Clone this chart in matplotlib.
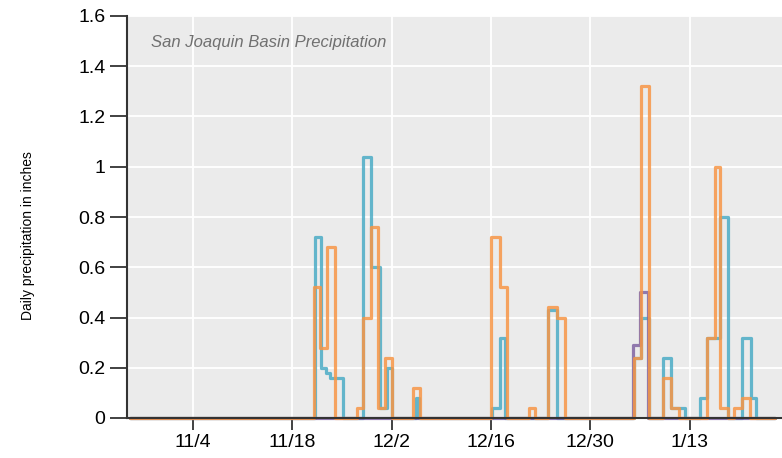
import numpy as np
import pandas as pd
import matplotlib
matplotlib.use("Agg")
import matplotlib.pyplot as plt

plt.rcParams['font.family'] = ['Liberation Sans', 'DejaVu Sans']

# day offsets from 11/4 where each step starts, and the value held until the next step
base = pd.Timestamp('2022-11-04')

blue_days = [-8.9, 17.2, 18.1, 18.8, 19.3, 21.1, 23.9, 25.1, 26.3, 27.3, 28.0,
             31.4, 31.8, 42.2, 43.2, 43.9, 50.0, 51.3, 62.1, 63.2, 64.25,
             66.2, 67.3, 69.3, 71.4, 72.4, 74.2, 75.4, 77.4, 78.6, 79.4, 82.0]
blue_vals = [0, 0.72, 0.20, 0.18, 0.16, 0, 1.04, 0.60, 0.04, 0.20, 0,
             0.08, 0, 0.04, 0.32, 0, 0.43, 0, 0.24, 0.40, 0,
             0.24, 0.04, 0, 0.08, 0.32, 0.80, 0, 0.32, 0.08, 0, 0]

orange_days = [-8.9, 17.0, 17.9, 18.9, 20.0, 23.1, 23.9, 25.1, 26.1, 27.0, 28.0,
               31.0, 32.05, 42.0, 43.2, 44.3, 47.4, 48.2, 50.0, 51.3, 52.4,
               62.1, 63.2, 64.25, 66.2, 67.3, 68.45, 72.4, 73.5, 74.2, 75.4,
               76.3, 77.3, 78.5, 82.0]
orange_vals = [0, 0.52, 0.28, 0.68, 0, 0.04, 0.40, 0.76, 0.04, 0.24, 0,
               0.12, 0, 0.72, 0.52, 0, 0.04, 0, 0.44, 0.40, 0,
               0.24, 1.32, 0, 0.16, 0.04, 0, 0.32, 1.00, 0.04, 0,
               0.04, 0.08, 0, 0]

purple_days = [-8.9, 62.0, 63.0, 64.1, 82.0]
purple_vals = [0, 0.29, 0.50, 0, 0]

tick_labels = ['11/4', '11/18', '12/2', '12/16', '12/30', '1/13']
tick_days = [0, 14, 28, 42, 56, 70]


def to_dates(days):
    return base + pd.to_timedelta(np.array(days), unit='D')


fig = plt.figure(figsize=(7.82, 4.58), dpi=100)
ax = fig.add_axes([127 / 782, 1 - 418 / 458, 1 - 127 / 782, (418 - 16) / 458])
ax.set_facecolor('#EBEBEB')

lw = 2.3
style = dict(drawstyle='steps-post', lw=lw, alpha=0.85, clip_on=False,
             solid_joinstyle='round', solid_capstyle='round')
ax.plot(to_dates(blue_days), blue_vals, color='#4BACC6', zorder=2, **style)
ax.plot(to_dates(purple_days), purple_vals, color='#8064A2', zorder=2.1, **style)
ax.plot(to_dates(orange_days), orange_vals, color='#F79646', zorder=2.2, **style)

ax.set_xlim(to_dates([-9.3])[0], to_dates([83.0])[0])
ax.set_ylim(0, 1.6)
ax.set_yticks(np.arange(0, 1.61, 0.2))
ax.set_yticklabels(['%g' % round(v, 1) for v in np.arange(0, 1.61, 0.2)])
ax.set_xticks(to_dates(tick_days))
ax.set_xticklabels(tick_labels)

ax.grid(True, color='white', lw=1.3)
ax.set_axisbelow(True)

for s in ['top', 'right']:
    ax.spines[s].set_visible(False)
for s in ['left', 'bottom']:
    ax.spines[s].set_color('#333333')
    ax.spines[s].set_linewidth(1.5)
    ax.spines[s].set_zorder(3)

ax.tick_params(axis='y', length=12, width=1.3, color='#333333', labelsize=14, pad=3.5)
ax.tick_params(axis='x', length=8.5, width=1.3, color='#333333', labelsize=14, pad=3)

ax.text(0.037, 0.935, 'San Joaquin Basin Precipitation', transform=ax.transAxes,
        fontsize=12, style='italic', color='#707070', va='center', ha='left')

fig.text(28 / 782, 1 - 236 / 458, 'Daily precipitation in inches', rotation=90,
         fontsize=10, va='center', ha='center', color='black')

fig.savefig('out.png', dpi=100)
